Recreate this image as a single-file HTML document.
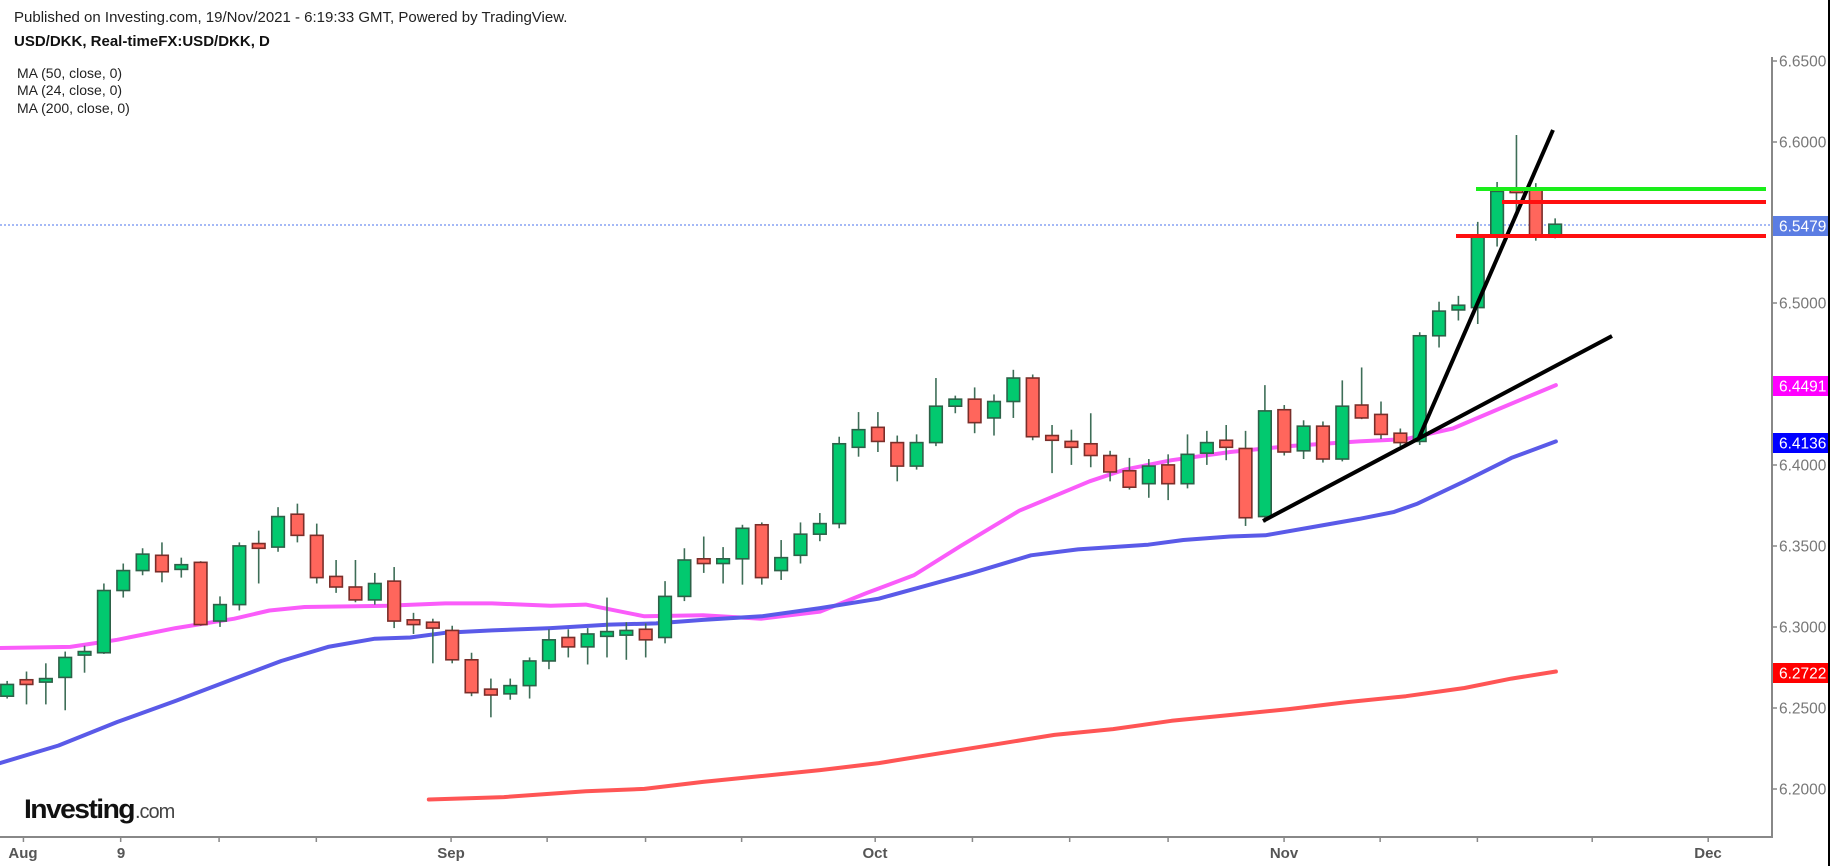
<!DOCTYPE html>
<html><head><meta charset="utf-8">
<style>
html,body{margin:0;padding:0;background:#fff;width:1837px;height:866px;overflow:hidden}
svg{display:block}
text{font-family:"Liberation Sans",Arial,sans-serif}
</style></head>
<body>
<svg id="s" width="1837" height="866" xmlns="http://www.w3.org/2000/svg">
<rect width="1837" height="866" fill="#fff"/>
<text x="14" y="22" font-size="15" fill="#222">Published on Investing.com, 19/Nov/2021 - 6:19:33 GMT, Powered by TradingView.</text>
<text x="14" y="46" font-size="15" font-weight="bold" fill="#111">USD/DKK, Real-timeFX:USD/DKK, D</text>
<text x="17" y="78" font-size="14" fill="#222">MA (50, close, 0)</text>
<text x="17" y="95" font-size="14" fill="#222">MA (24, close, 0)</text>
<text x="17" y="113" font-size="14" fill="#222">MA (200, close, 0)</text>
<g id="plot"></g>
<text x="24" y="818" font-size="27" font-weight="bold" fill="#111" letter-spacing="-1.5" textLength="110" lengthAdjust="spacingAndGlyphs">Investing</text>
<text x="135" y="818" font-size="20" fill="#444" letter-spacing="-1">.com</text>
<line x1="1772" y1="57" x2="1772" y2="838" stroke="#888" stroke-width="2"/>
<line x1="0" y1="837" x2="1773" y2="837" stroke="#888" stroke-width="2"/>
<line x1="1829" y1="0" x2="1829" y2="866" stroke="#000" stroke-width="2"/>
<g id="axis"></g>
</svg>
<script>
var NS="http://www.w3.org/2000/svg";
function el(p,t,a){var e=document.createElementNS(NS,t);for(var k in a)e.setAttribute(k,a[k]);p.appendChild(e);return e;}
var plot=document.getElementById('plot'),axis=document.getElementById('axis');
var X=function(i){return 26.5+i*19.35}, Y=function(v){return v*1.174};
el(plot,'line',{x1:0,y1:225,x2:1772,y2:225,stroke:'#6f8ff0','stroke-width':1.3,'stroke-dasharray':'2,2'});
function poly(pts,col){var s=pts.map(function(p){return (p[0]*1.1716).toFixed(1)+','+Y(p[1]).toFixed(1)}).join(' ');
 el(plot,'polyline',{points:s,fill:'none',stroke:col,'stroke-width':4,'stroke-linejoin':'round','stroke-linecap':'round'});}
poly([[0,552],[60,551],[100,545],[150,535],[200,527],[230,520],[260,517],[330,516],[380,514],[420,514],[470,516],[500,515],[550,525],[600,524],[650,527],[700,521],[740,505],[780,490],[820,465],[870,435],[930,410],[960,400],[1000,392],[1050,385],[1100,380],[1160,376],[1200,374],[1240,365],[1280,348],[1328,328]],'#fa5cfa');
poly([[0,650],[50,635],[100,615],[150,597],[200,578],[240,563],[280,551],[320,544],[350,543],[380,539],[420,537],[470,535],[520,532],[560,531],[600,528],[650,525],[700,518],[750,510],[790,499],[830,488],[880,473],[920,468],[980,464],[1010,460],[1050,457],[1080,456],[1120,449],[1160,442],[1190,436],[1210,429],[1250,410],[1290,390],[1328,376]],'#5a5ae8');
poly([[366,681],[400,680],[430,679],[500,674],[550,672],[600,666],[650,661],[700,656],[750,650],[800,642],[850,634],[900,626],[950,621],[1000,614],[1050,609],[1100,604],[1150,598],[1200,593],[1250,586],[1290,578],[1328,572]],'#ff5555');
var C=[[-1,1,580,583,593,595],[0,0,572,579,583,600],[1,1,565,578,581,600],[2,1,555,560,577,605],[3,1,550,555,558,573],[4,1,497,503,556,557],[5,1,480,486,503,509],[6,1,467,472,486,490],[7,0,462,473,487,496],[8,1,475,481,485,492],[9,0,478,479,532,533],[10,1,508,515,529,534],[11,1,462,465,515,520],[12,0,452,464,466,497],[13,1,432,440,466,470],[14,0,429,438,456,462],[15,0,446,456,492,497],[16,0,477,491,500,505],[17,0,477,500,511,513],[18,1,488,497,511,515],[19,0,483,495,529,535],[20,0,522,529,531,540],[21,0,527,530,535,565],[22,0,533,537,562,565],[23,0,556,562,590,593],[24,0,578,587,592,611],[25,1,578,584,591,596],[26,1,560,563,584,595],[27,1,536,545,563,570],[28,0,536,543,551,560],[29,1,535,540,551,566],[30,1,509,539,541,560],[31,1,530,537,541,562],[32,0,531,536,545,560],[33,1,495,508,543,548],[34,1,467,477,508,512],[35,0,457,477,479,488],[36,1,466,477,479,497],[37,1,447,450,476,498],[38,0,445,447,492,498],[39,1,460,475,486,494],[40,1,445,455,473,480],[41,1,437,446,455,461],[42,1,372,378,446,450],[43,1,351,366,381,389],[44,0,351,364,376,385],[45,0,371,377,397,410],[46,1,370,377,397,400],[47,1,322,346,377,380],[48,1,337,340,346,352],[49,0,330,340,360,369],[50,1,336,342,356,371],[51,1,315,322,342,356],[52,0,319,322,372,375],[53,0,362,372,374,403],[54,0,366,376,381,396],[55,0,352,378,388,398],[56,0,384,388,402,410],[57,0,390,401,415,417],[58,1,391,397,412,424],[59,0,387,396,412,426],[60,1,370,387,412,416],[61,1,367,377,386,396],[62,0,362,375,381,392],[63,0,367,382,441,448],[64,1,328,350,440,445],[65,0,345,349,385,388],[66,1,358,363,384,391],[67,0,359,363,391,394],[68,1,324,346,391,393],[69,0,313,345,356,357],[70,0,342,353,370,374],[71,0,365,369,377,380],[72,1,283,286,376,379],[73,1,257,265,286,296],[74,1,252,260,264,273],[75,1,189,201,262,276],[76,1,155,163,201,210],[77,0,115,161,163,185],[78,0,156,160,201,205],[79,1,186,191,201,203]];
C.forEach(function(c){var x=X(c[0]);
 el(plot,'line',{x1:x,y1:Y(c[2]),x2:x,y2:Y(c[5]),stroke:'#3e6e58','stroke-width':1.6});
 var t=Y(c[3]),b=Y(c[4]);if(b-t<2.5){t-=1.2;b+=1.2;}
 el(plot,'rect',{x:x-6.3,y:t,width:12.6,height:b-t,fill:c[1]?'#02c96f':'#ff665c',stroke:c[1]?'#2d6148':'#7a2e2a','stroke-width':1.6});
});
el(plot,'line',{x1:1418,y1:440,x2:1553,y2:130,stroke:'#000','stroke-width':4});
el(plot,'line',{x1:1263,y1:521,x2:1612,y2:336,stroke:'#000','stroke-width':4});
el(plot,'line',{x1:1476,y1:189,x2:1766,y2:189,stroke:'#1aee1a','stroke-width':4});
el(plot,'line',{x1:1502,y1:202,x2:1766,y2:202,stroke:'#ff1010','stroke-width':4});
el(plot,'line',{x1:1456,y1:236,x2:1766,y2:236,stroke:'#ff1010','stroke-width':4});
var ticks=[[6.65,61],[6.60,142],[6.50,303],[6.40,465],[6.35,546],[6.30,627],[6.25,708],[6.20,789]];
ticks.forEach(function(t){el(axis,'line',{x1:1772,y1:t[1],x2:1777,y2:t[1],stroke:'#888','stroke-width':1.5});
 var e=el(axis,'text',{x:1779,y:t[1]+5.5,'font-size':15.5,fill:'#777'});e.textContent=t[0].toFixed(4);});
[[6.55,223],[6.45,384]].forEach(function(t){el(axis,'line',{x1:1772,y1:t[1],x2:1777,y2:t[1],stroke:'#888','stroke-width':1.5});});
var labs=[['6.5479',226,'#5b7de3'],['6.4491',386,'#ff00ff'],['6.4136',443,'#0000ff'],['6.2722',673,'#ff0000']];
labs.forEach(function(l){el(axis,'rect',{x:1773,y:l[1]-10,width:55,height:20,fill:l[2]});
 var e=el(axis,'text',{x:1779,y:l[1]+5.5,'font-size':15.5,fill:'#fff'});e.textContent=l[0];});
[20,103,187,270,385,467,551,633,747,830,913,997,1096,1178,1261,1359,1458].forEach(function(v){var x=v*1.1716;
 el(axis,'line',{x1:x,y1:837,x2:x,y2:842,stroke:'#888','stroke-width':1.5});});
[['Aug',23],['9',121],['Sep',451],['Oct',875],['Nov',1284],['Dec',1708]].forEach(function(l){
 var e=el(axis,'text',{x:l[1],y:858,'font-size':15,'font-weight':'bold',fill:'#555','text-anchor':'middle'});e.textContent=l[0];});
</script>
</body></html>
